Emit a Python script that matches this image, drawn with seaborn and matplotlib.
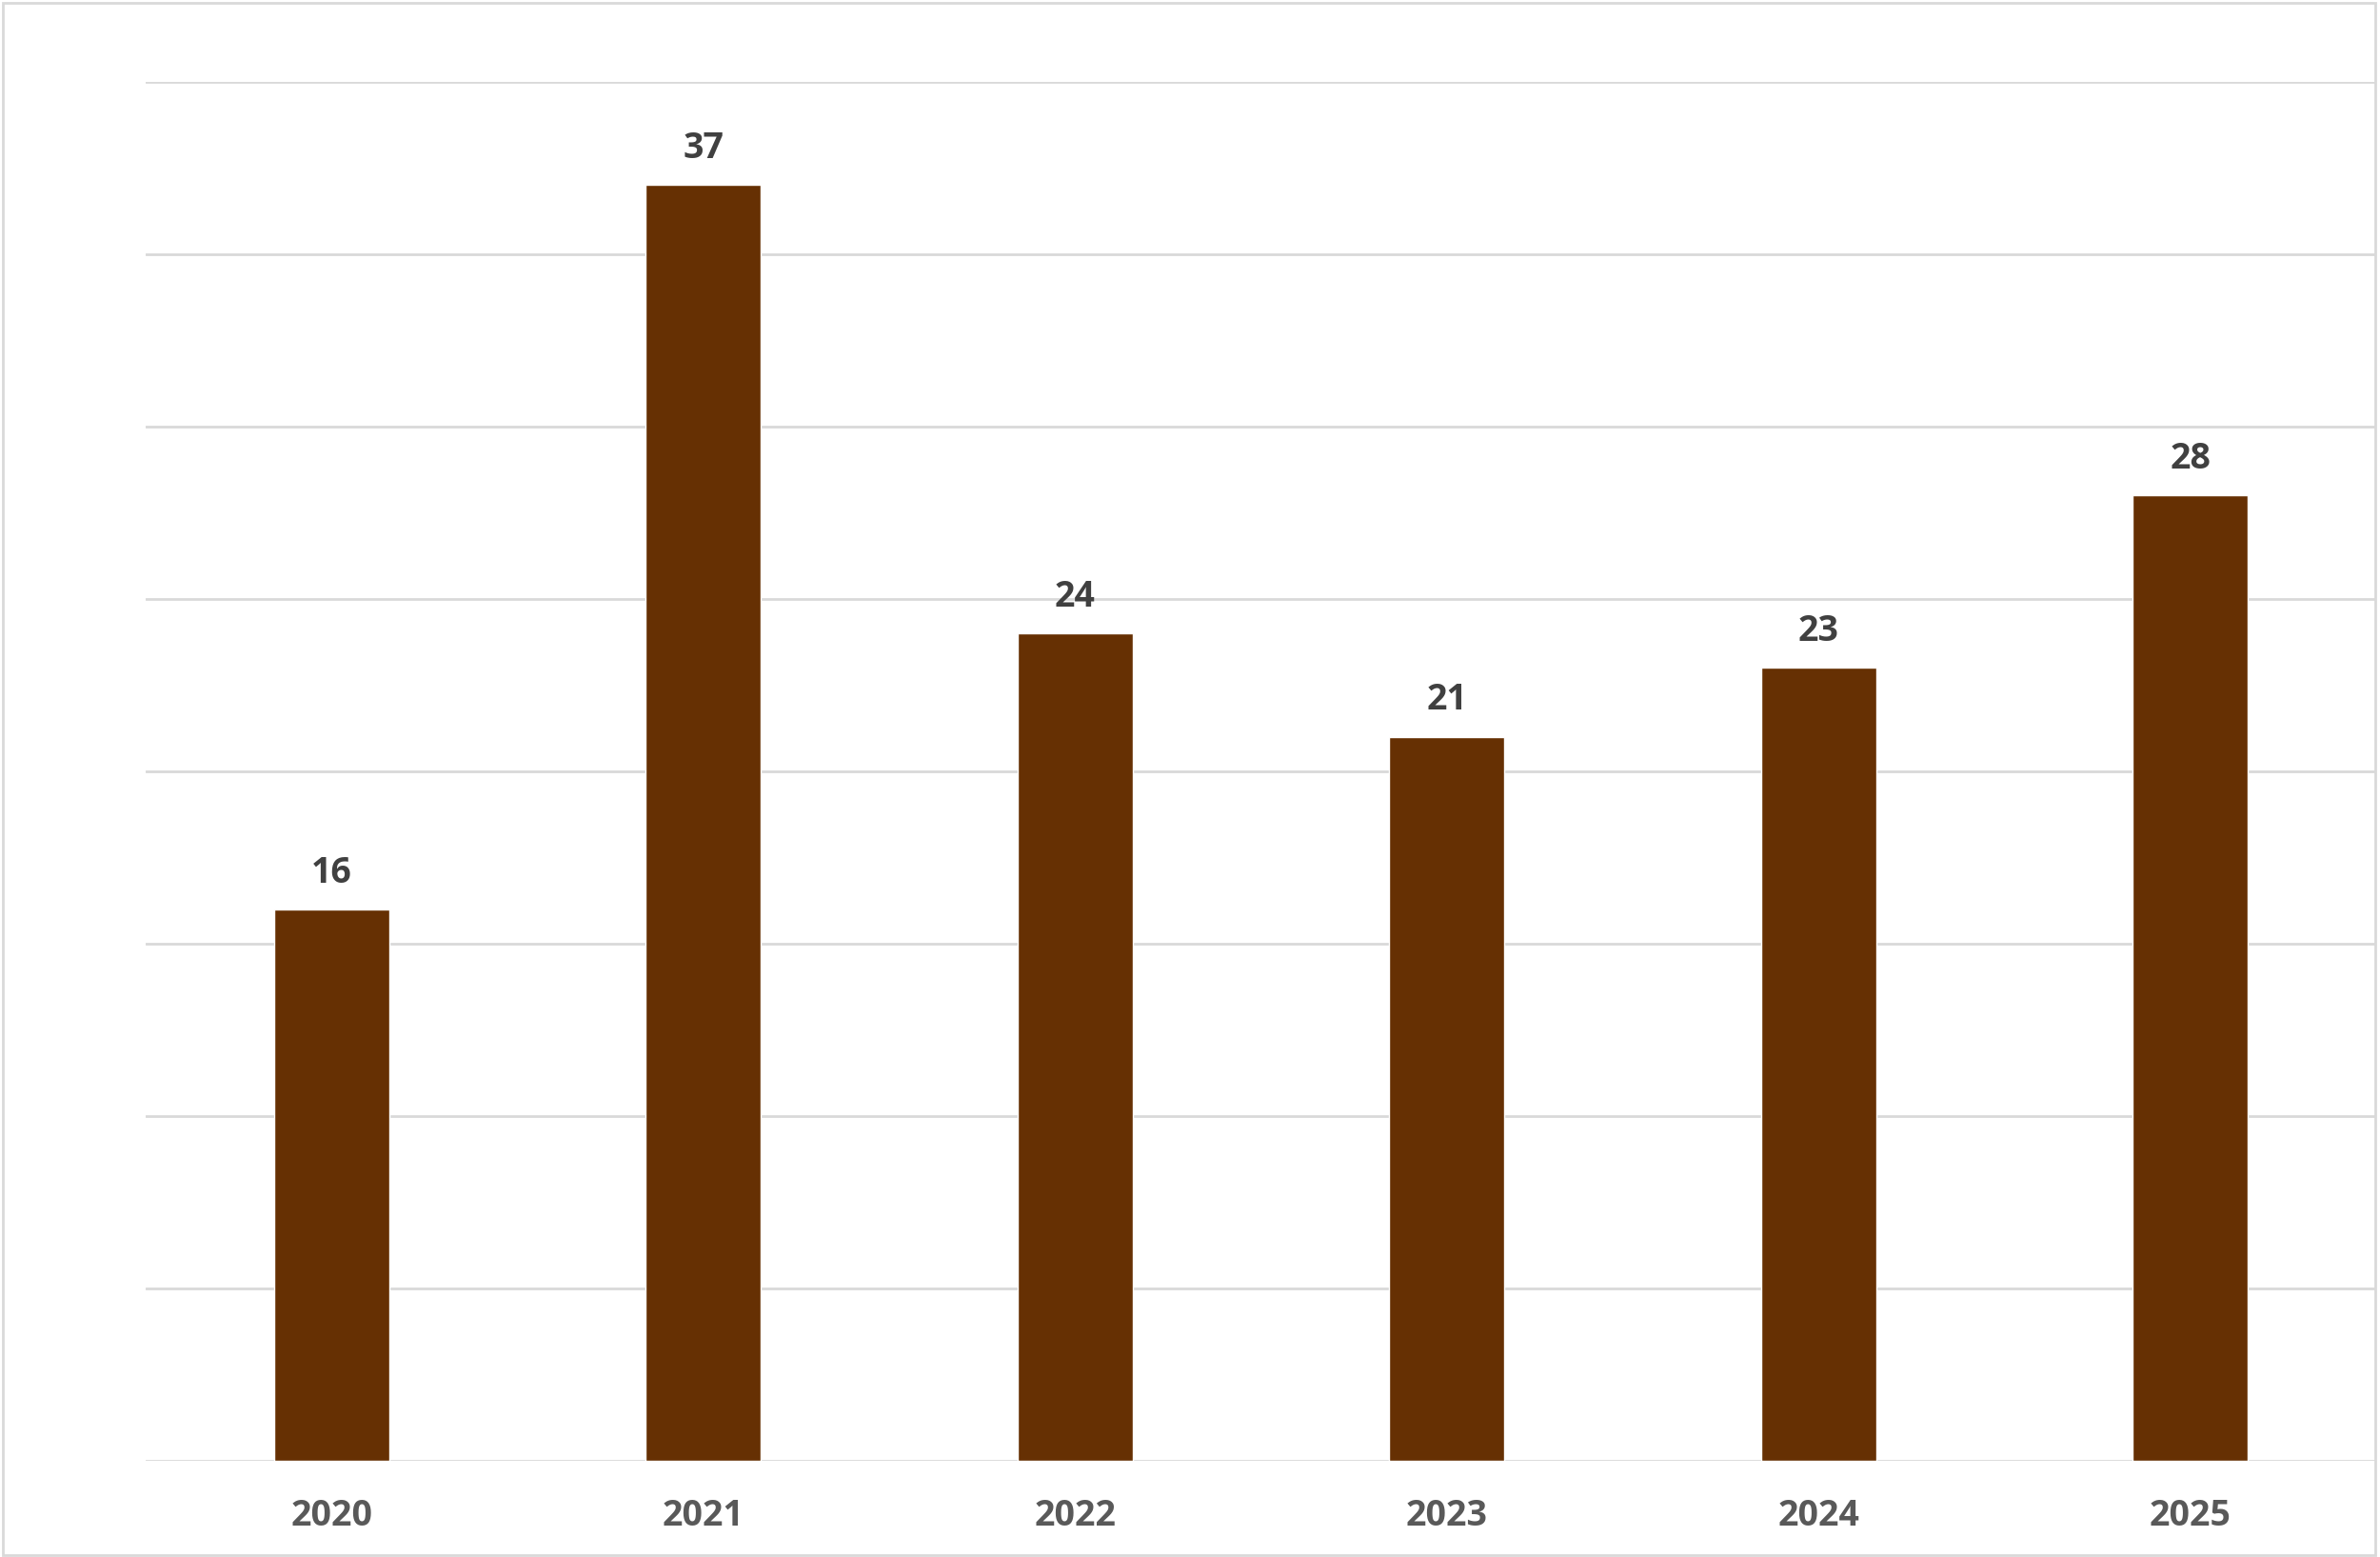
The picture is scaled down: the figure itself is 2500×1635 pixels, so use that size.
import matplotlib
matplotlib.use("Agg")
import matplotlib.pyplot as plt
import seaborn as sns
import pandas as pd
from matplotlib.patches import Rectangle

# data
years = ["2020", "2021", "2022", "2023", "2024", "2025"]
counts = [16, 37, 24, 21, 23, 28]

df = pd.DataFrame({"year": years, "count": counts})

sns.set_theme(style="white")
plt.rcParams["font.family"] = ["Open Sans", "DejaVu Sans"]

fig = plt.figure(figsize=(25, 16.35), dpi=100)
ax = fig.add_axes([0.0613, 0.0615, 0.937, 0.886])

sns.barplot(data=df, x="year", y="count", color="#663003", saturation=1,
            width=0.31, ax=ax, zorder=3)

ax.set_ylim(0, 40)
ax.set_yticks(range(0, 41, 5))
ax.yaxis.grid(True, color="#d9d9d9", linewidth=2)
ax.set_axisbelow(True)
ax.tick_params(axis="y", left=False, labelleft=False)
ax.tick_params(axis="x", bottom=False, pad=22, labelsize=27, labelcolor="#595959")
for lbl in ax.get_xticklabels():
    lbl.set_fontweight("bold")
ax.set_xlabel("")
ax.set_ylabel("")
for s in ax.spines.values():
    s.set_visible(False)

ax.bar_label(ax.containers[0], padding=14, fontsize=27, fontweight="bold", color="#404040")

# outer chart border
fig.patches.append(Rectangle((0.001, 0.001), 0.997, 0.997, transform=fig.transFigure,
                             fill=False, edgecolor="#d9d9d9", linewidth=2))

fig.savefig("out.png", dpi=100)
